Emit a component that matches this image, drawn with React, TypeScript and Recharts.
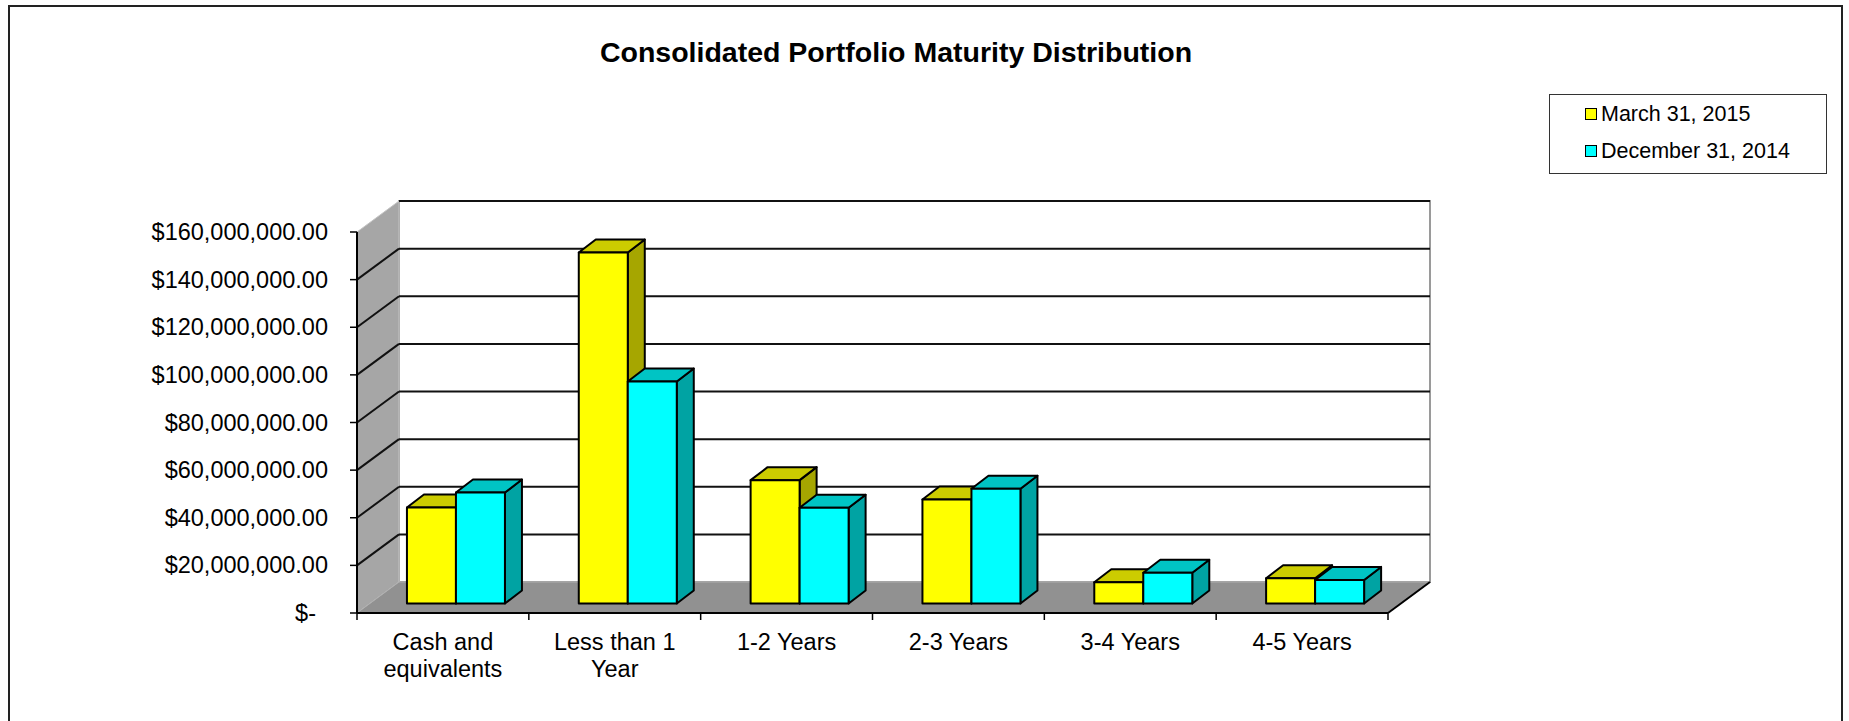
import { Bar, BarChart, Legend, ReferenceArea, ReferenceLine, XAxis, YAxis } from "recharts";

const categories = ["Cash and equivalents", "Less than 1 Year", "1-2 Years", "2-3 Years", "3-4 Years", "4-5 Years"];
const categoryLines = [["Cash and", "equivalents"], ["Less than 1", "Year"], ["1-2 Years"], ["2-3 Years"], ["3-4 Years"], ["4-5 Years"]];
const seriesNames = ["March 31, 2015", "December 31, 2014"];
const march2015 = [40300000, 147400000, 51800000, 43700000, 8900000, 10600000];
const dec2014 = [46600000, 93200000, 40200000, 48200000, 12900000, 9900000];
const yTicks = [0, 20000000, 40000000, 60000000, 80000000, 100000000, 120000000, 140000000, 160000000];

const data = categories.map((name, i) => ({ name, march: march2015[i], dec: dec2014[i] }));

const FONT = "'Liberation Sans', Arial, sans-serif";
// depth of the walls/floor and of the boxes (oblique 3D look)
const DX = 42;
const DY = 31;
const SHIFT_X = 13;
const SHIFT_Y = 9.5;
const BOX_DX = 17;
const BOX_DY = 13;

const shades: Record<string, { top: string; side: string }> = {
  "#ffff00": { top: "#cccc00", side: "#a6a600" },
  "#00ffff": { top: "#00c4c4", side: "#00a3a3" },
};

function Box3D(props: any) {
  const { x, y, width, height, fill } = props;
  if (width == null || height == null) return null;
  const fx = x + SHIFT_X;
  const fy = y - SHIFT_Y;
  const s = shades[fill] ?? { top: fill, side: fill };
  const top = `${fx},${fy} ${fx + BOX_DX},${fy - BOX_DY} ${fx + width + BOX_DX},${fy - BOX_DY} ${fx + width},${fy}`;
  const side = `${fx + width},${fy} ${fx + width + BOX_DX},${fy - BOX_DY} ${fx + width + BOX_DX},${fy + height - BOX_DY} ${fx + width},${fy + height}`;
  return (
    <g stroke="#000" strokeWidth={2} strokeLinejoin="round">
      <polygon points={side} fill={s.side} />
      <polygon points={top} fill={s.top} />
      <rect x={fx} y={fy} width={width} height={height} fill={fill} />
    </g>
  );
}

function Walls(props: any) {
  const { x, y, width, height } = props;
  const b = y + height;
  const n = categories.length;
  return (
    <g>
      <rect x={x + DX} y={y - DY} width={width} height={height} fill="#fff" stroke="#9a9a9a" strokeWidth={2} />
      <polygon points={`${x},${y} ${x + DX},${y - DY} ${x + DX},${b - DY} ${x},${b}`} fill="#a6a6a6" stroke="#c4c4c4" strokeWidth={1} />
      <polygon points={`${x},${b} ${x + width},${b} ${x + width + DX},${b - DY} ${x + DX},${b - DY}`} fill="#919191" stroke="#b0b0b0" strokeWidth={1} />
      <line x1={x + width} y1={b} x2={x + width + DX} y2={b - DY} stroke="#000" strokeWidth={2} />
      {Array.from({ length: n + 1 }, (_, i) => (
        <line key={i} x1={x + (width * i) / n} y1={b} x2={x + (width * i) / n} y2={b + 7} stroke="#000" strokeWidth={1.5} />
      ))}
    </g>
  );
}

function GridLine(props: any) {
  const { x1, y1, x2, diagonal } = props;
  return (
    <g stroke="#111" strokeWidth={2}>
      {diagonal && <line x1={x1} y1={y1} x2={x1 + DX} y2={y1 - DY} />}
      <line x1={x1 + DX} y1={y1 - DY} x2={x2 + DX} y2={y1 - DY} />
    </g>
  );
}

function YTick(props: any) {
  const { x, y, payload } = props;
  const v = payload.value as number;
  const label = v === 0 ? "$-" : "$" + v.toLocaleString("en-US", { minimumFractionDigits: 2, maximumFractionDigits: 2 });
  return (
    <text x={x} y={y} dx={v === 0 ? -12 : 0} dy={8} textAnchor="end" fontSize={23.5} fontFamily={FONT} fill="#000">
      {label}
    </text>
  );
}

function XTick(props: any) {
  const { x, y, index } = props;
  const lines = categoryLines[index] ?? [];
  return (
    <text textAnchor="middle" fontSize={23.5} fontFamily={FONT} fill="#000">
      {lines.map((l, i) => (
        <tspan key={i} x={x} y={y + 37 + i * 27}>
          {l}
        </tspan>
      ))}
    </text>
  );
}

function LegendBox(props: any) {
  const payload = [...(props.payload ?? [])].sort(
    (a: any, b: any) => seriesNames.indexOf(a.value) - seriesNames.indexOf(b.value)
  );
  return (
    <div style={{ position: "relative", width: 278, height: 80, border: "1px solid #333", boxSizing: "border-box", background: "#fff", fontFamily: FONT }}>
      {payload.map((p: any, i: number) => (
        <div key={i} style={{ position: "absolute", left: 35, top: 7 + i * 37, height: 24, display: "flex", alignItems: "center" }}>
          <span style={{ width: 10, height: 10, border: "1.5px solid #000", background: p.color, display: "inline-block" }} />
          <span style={{ marginLeft: 4, fontSize: 21.5, color: "#000", lineHeight: "24px" }}>{p.value}</span>
        </div>
      ))}
    </div>
  );
}

export default function App() {
  return (
    <div style={{ position: "absolute", left: 0, top: 0, width: 1849, height: 721, overflow: "hidden", background: "#fff" }}>
      <div style={{ position: "absolute", left: 8, top: 5, width: 1835, height: 780, border: "2px solid #222", boxSizing: "border-box" }} />
      <div style={{ position: "absolute", left: 0, top: 38, width: 1792, textAlign: "center", fontFamily: FONT, fontWeight: "bold", fontSize: 28.5, lineHeight: "28.5px", color: "#000" }}>
        Consolidated Portfolio Maturity Distribution
      </div>
      <div style={{ position: "absolute", left: 0, top: 0 }}>
        <BarChart width={1849} height={721} data={data} margin={{ top: 232, right: 461, left: 0, bottom: 8 }} barGap={0} barCategoryGap="21.5%">
          <ReferenceArea y1={0} y2={160000000} shape={<Walls />} zIndex={-300} />
          {yTicks
            .filter((v) => v > 0)
            .map((v) => (
              <ReferenceLine key={v} y={v} zIndex={-200} shape={(p: any) => <GridLine {...p} diagonal={v < 160000000} />} />
            ))}
          <XAxis dataKey="name" interval={0} height={100} tickSize={0} tickMargin={0} tickLine={false} axisLine={{ stroke: "#000", strokeWidth: 2 }} tick={<XTick />} />
          <YAxis
            width={357}
            domain={[0, 160000000]}
            ticks={yTicks}
            interval={0}
            tickSize={7}
            tickMargin={22}
            axisLine={{ stroke: "#000", strokeWidth: 2 }}
            tickLine={{ stroke: "#000", strokeWidth: 1.5 }}
            tick={<YTick />}
          />
          <Legend
            layout="vertical"
            align="center"
            verticalAlign="middle"
            content={<LegendBox />}
            wrapperStyle={{ left: 1549, top: 94, width: 278, height: 80 }}
          />
          <Bar dataKey="march" name={seriesNames[0]} fill="#ffff00" shape={<Box3D />} isAnimationActive={false} />
          <Bar dataKey="dec" name={seriesNames[1]} fill="#00ffff" shape={<Box3D />} isAnimationActive={false} />
        </BarChart>
      </div>
    </div>
  );
}
